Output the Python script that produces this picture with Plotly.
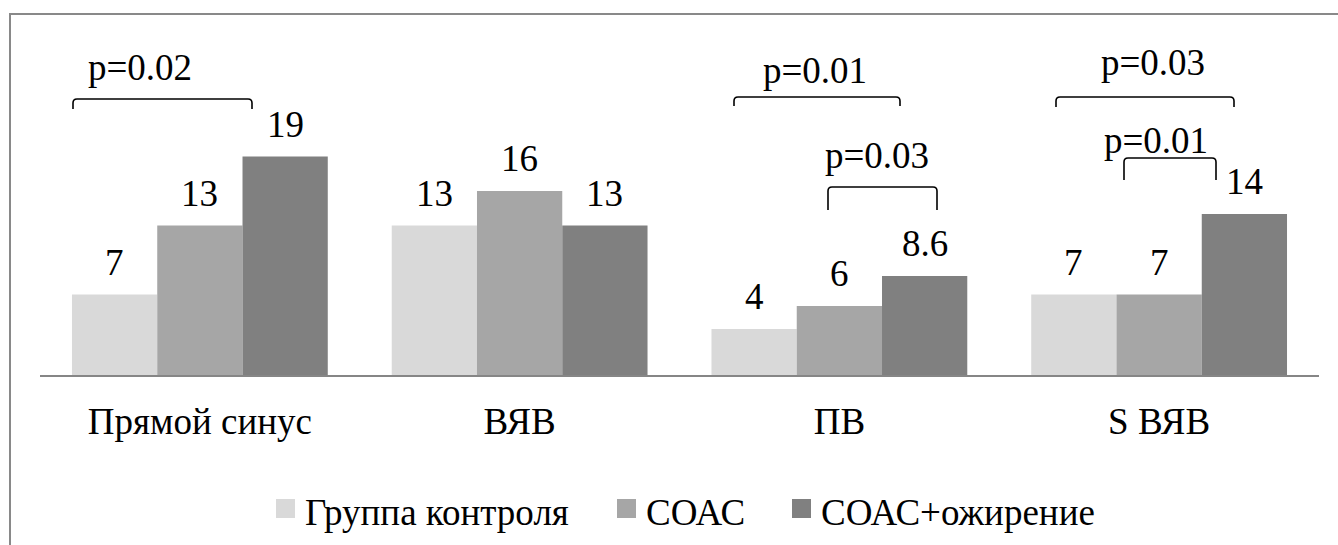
import plotly.graph_objects as go

# Categories and series values
categories = ["Прямой синус", "ВЯВ", "ПВ", "S ВЯВ"]
series_names = ["Группа контроля", "СОАС", "СОАС+ожирение"]
control = [7, 13, 4, 7]
osas = [13, 16, 6, 7]
osas_obese = [19, 13, 8.6, 14]
series_values = [control, osas, osas_obese]
series_colors = ["#d9d9d9", "#a6a6a6", "#808080"]

# Significance labels for the brackets
p_labels = ["p=0.02", "p=0.01", "p=0.03", "p=0.03", "p=0.01"]

W, H = 1338, 545
ML, MR, MT, MB = 40, 19, 30, 170
YMAX = 30.0
FONT = "Liberation Serif, serif"
FS = 37

plot_w = W - ML - MR
plot_h = H - MT - MB


def px_x(px):
    """Horizontal pixel -> data x (category index units)."""
    return -0.5 + (px - ML) / plot_w * 4.0


def px_y(py):
    """Vertical pixel -> data y."""
    return (H - MB - py) / plot_h * YMAX


def paper_x(px):
    return (px - ML) / plot_w


def paper_y(py):
    return (H - MB - py) / plot_h


fig = go.Figure()
xs = list(range(len(categories)))
for name, vals, col in zip(series_names, series_values, series_colors):
    fig.add_trace(go.Bar(
        x=xs, y=vals, name=name, marker=dict(color=col, line=dict(width=0)),
        showlegend=False, hoverinfo="skip",
    ))

annotations = []
shapes = []

# value labels above bars
bar_w = 0.8 / 3
for j, vals in enumerate(series_values):
    for i, v in enumerate(vals):
        annotations.append(dict(
            x=i + (j - 1) * bar_w, y=v, xref="x", yref="y",
            text=f"{v:g}", showarrow=False, yanchor="bottom", yshift=10,
            font=dict(family=FONT, size=FS, color="#000000"),
        ))

# brackets (pixel geometry converted to data coordinates)
bracket_px = [
    (73, 252, 99, 109, 140, 67),
    (734, 900, 97, 106, 815, 70),
    (828, 937, 187, 210, 877, 155),
    (1056, 1234, 97, 107, 1153, 62),
    (1124, 1216, 158, 180, 1156, 140),
]
for (xl, xr, yt, yb, tx, ty), lab in zip(bracket_px, p_labels):
    x0, x1 = px_x(xl), px_x(xr)
    y0, y1 = px_y(yt), px_y(yb)
    r = px_x(xl + 4) - x0
    ry = px_y(yt) - px_y(yt + 4)
    path = (f"M {x0},{y1} L {x0},{y0 - ry} Q {x0},{y0} {x0 + r},{y0} "
            f"L {x1 - r},{y0} Q {x1},{y0} {x1},{y0 - ry} L {x1},{y1}")
    shapes.append(dict(type="path", path=path, xref="x", yref="y",
                       line=dict(color="#000000", width=1.6)))
    annotations.append(dict(
        x=px_x(tx), y=px_y(ty), xref="x", yref="y", text=lab, showarrow=False,
        xanchor="center", yanchor="middle",
        font=dict(family=FONT, size=FS, color="#000000"),
    ))

# legend drawn as swatches + labels
legend_sw = [276, 617, 792]
for name, col, sx in zip(series_names, series_colors, legend_sw):
    shapes.append(dict(type="rect", xref="paper", yref="paper",
                       x0=paper_x(sx), x1=paper_x(sx + 19),
                       y0=paper_y(518), y1=paper_y(499),
                       fillcolor=col, line=dict(width=0)))
    annotations.append(dict(
        x=paper_x(sx + 27), y=paper_y(512), xref="paper", yref="paper",
        text=name, showarrow=False, xanchor="left", yanchor="middle",
        font=dict(family=FONT, size=FS, color="#000000"),
    ))

# chart frame
fx = paper_x(10)
fy = paper_y(14)
shapes.append(dict(type="path", xref="paper", yref="paper",
                   path=f"M {fx},{paper_y(560)} L {fx},{fy} L {paper_x(1360)},{fy}",
                   line=dict(color="#898989", width=2)))

fig.update_layout(
    width=W, height=H,
    margin=dict(l=ML, r=MR, t=MT, b=MB),
    paper_bgcolor="#ffffff", plot_bgcolor="#ffffff",
    barmode="group", bargap=0.2, bargroupgap=0,
    showlegend=False,
    font=dict(family=FONT, size=FS, color="#000000"),
    xaxis=dict(
        range=[-0.5, 3.5], tickvals=xs, ticktext=categories,
        showline=True, linecolor="#868686", linewidth=2,
        showgrid=False, zeroline=False, ticks="",
        tickfont=dict(family=FONT, size=FS, color="#000000"),
        ticklabelstandoff=13, fixedrange=True,
    ),
    yaxis=dict(range=[0, YMAX], visible=False, fixedrange=True),
    shapes=shapes, annotations=annotations,
)

fig.write_html("out.html")
